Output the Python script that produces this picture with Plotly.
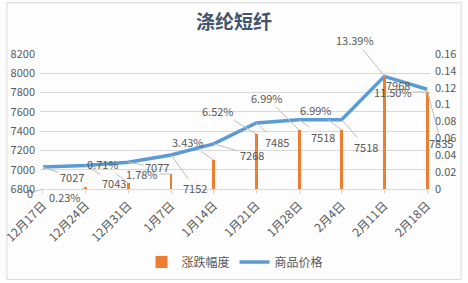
import plotly.graph_objects as go

categories = ["12月17日", "12月24日", "12月31日", "1月7日", "1月14日", "1月21日",
              "1月28日", "2月4日", "2月11日", "2月18日"]
price = [7027, 7043, 7077, 7152, 7268, 7485, 7518, 7518, 7968, 7835]
change = [0, 0.0023, 0.0071, 0.0178, 0.0343, 0.0652, 0.0699, 0.0699, 0.1339, 0.1150]
change_labels = ["0", "0.23%", "0.71%", "1.78%", "3.43%", "6.52%", "6.99%", "6.99%", "13.39%", "11.50%"]

# label offsets (pixels) for leader-line labels
price_off = [(29, 10), (28, 17), (29, 5), (24, 33), (38, 11), (21, 19), (24, 17), (24, 27), (14, 9), (14, 54)]
change_off = [(-13, 4), (-21, 10), (-25, -19), (-29, 0), (-26, -18), (-38, -23), (-32, -32), (-26, -20), (-29, -36), (-34, 0)]

FONT = "Noto Sans CJK SC"
TXT = "#595959"
x = list(range(len(categories)))

fig = go.Figure()
fig.add_trace(go.Bar(x=x, y=change, name="涨跌幅度", yaxis="y2",
                     marker=dict(color="#ED7D31", line_width=0), width=0.07))
fig.add_trace(go.Scatter(x=x, y=price, name="商品价格", mode="lines",
                         line=dict(color="#5B9BD5", width=3.5)))

ann = []
for i, (v, (dx, dy)) in enumerate(zip(price, price_off)):
    ann.append(dict(x=i, y=v, xref="x", yref="y", text=str(v), showarrow=True,
                    arrowhead=0, arrowwidth=1, arrowcolor="#BFBFBF", ax=dx, ay=dy,
                    font=dict(size=11, color=TXT, family=FONT)))
for i, (v, t, (dx, dy)) in enumerate(zip(change, change_labels, change_off)):
    ann.append(dict(x=i, y=v, xref="x", yref="y2", text=t, showarrow=True,
                    arrowhead=0, arrowwidth=1, arrowcolor="#BFBFBF", ax=dx, ay=dy,
                    font=dict(size=11, color=TXT, family=FONT)))

fig.update_layout(
    width=468, height=283,
    margin=dict(l=40, r=38, t=54, b=94, autoexpand=False),
    paper_bgcolor="#FDFDFD", plot_bgcolor="rgba(0,0,0,0)",
    font=dict(family=FONT, size=11, color=TXT),
    title=dict(text="<b>涤纶短纤</b>", x=0.5, xanchor="center", y=0.92, yanchor="middle",
               font=dict(size=19, color="#44546A", family=FONT)),
    xaxis=dict(tickmode="array", tickvals=x, ticktext=categories, tickangle=-45,
               range=[-0.07, 9.07], showgrid=False, zeroline=False, automargin=False,
               showline=True, linecolor="#D9D9D9", ticks="outside", ticklen=4,
               tickcolor="#D9D9D9", tickfont=dict(size=12, color=TXT)),
    yaxis=dict(range=[6800, 8200], dtick=200, showgrid=True, gridcolor="#D9D9D9",
               zeroline=False, automargin=False,
               tickfont=dict(size=11, color=TXT), ticklabelstandoff=4),
    yaxis2=dict(range=[0, 0.16], dtick=0.02, overlaying="y", side="right",
                showgrid=False, zeroline=False, automargin=False,
                tickfont=dict(size=11, color=TXT), ticklabelstandoff=4),
    legend=dict(orientation="h", x=0.5, xanchor="center", y=-0.54, yanchor="middle",
                font=dict(size=12, color=TXT), bgcolor="rgba(0,0,0,0)"),
    annotations=ann,
    shapes=[dict(type="rect", xref="paper", yref="paper", x0=-0.085, x1=1.08,
                 y0=-0.67, y1=1.38, line=dict(color="#D9D9D9", width=1))],
    bargap=0,
)

fig.write_html("out.html")
